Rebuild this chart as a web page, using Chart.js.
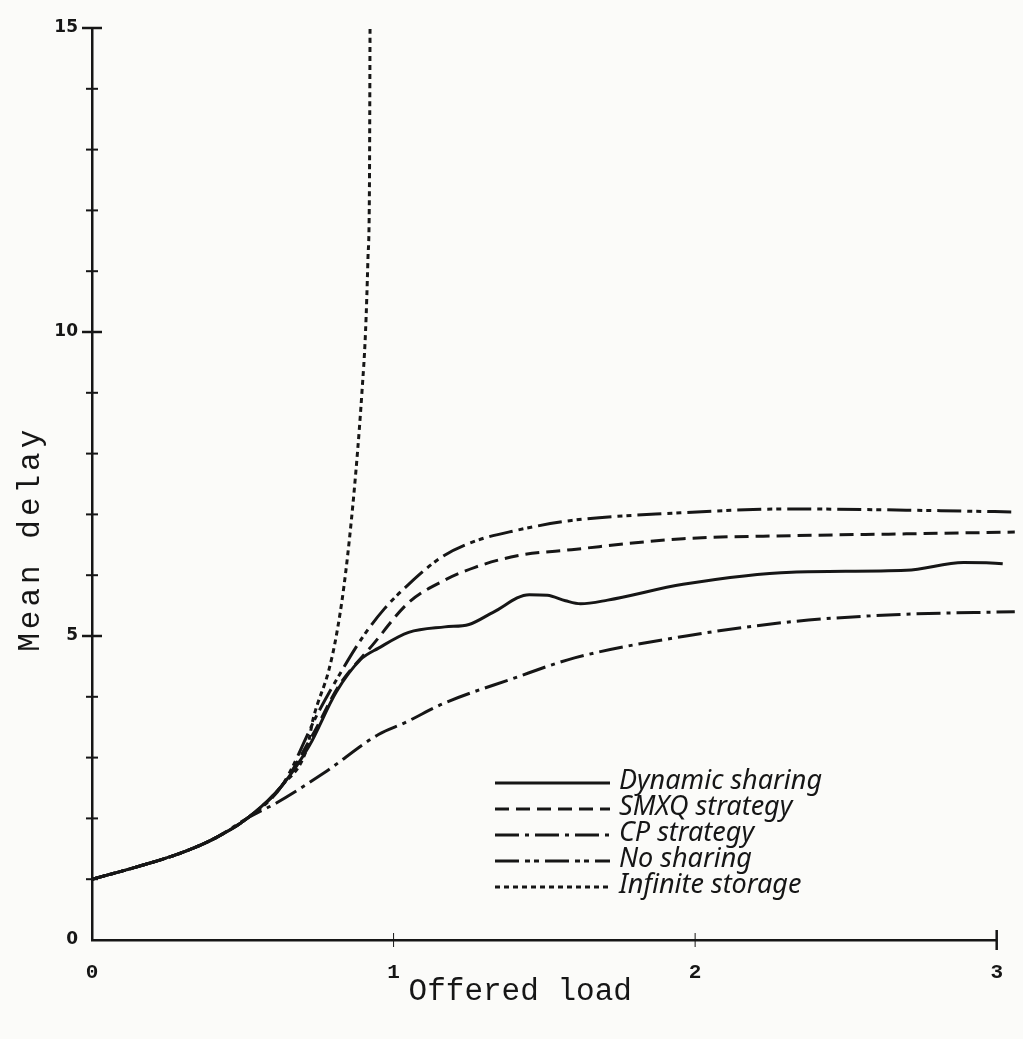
<!DOCTYPE html>
<html lang="en">
<head>
    <meta charset="UTF-8">
    <title>Mean delay vs offered load</title>
    <script src="https://cdn.jsdelivr.net/npm/chart.js"></script>
    <style>
        html, body { margin: 0; padding: 0; background: #fbfbf9; }
        #caixa { width: 1023px; height: 1039px; position: relative; }
    </style>
</head>
<body>
    <div id="caixa"><canvas id="grafico"></canvas></div>

<script>
    // tick labels
    const xLabels = [0, 1, 2, 3];
    const yLabels = [0, 5, 10, 15];

    const nomes = ['Dynamic sharing', 'SMXQ strategy', 'CP strategy', 'No sharing', 'Infinite storage'];

    // values (offered load -> mean delay)
    const dynX = [0, 0.14, 0.30, 0.41, 0.52, 0.63, 0.72, 0.81, 0.89, 0.95, 1.05, 1.17, 1.25, 1.33, 1.45, 1.51, 1.57, 1.62, 1.71, 1.96, 2.32, 2.70, 2.89, 3.02, 3.06];
    const dynY = [1.0, 1.19, 1.44, 1.68, 2.02, 2.54, 3.19, 4.08, 4.61, 4.80, 5.06, 5.15, 5.19, 5.39, 5.68, 5.67, 5.58, 5.53, 5.59, 5.85, 6.05, 6.08, 6.21, 6.19, 6.16];

    const smxqX = [0, 0.14, 0.30, 0.41, 0.52, 0.63, 0.73, 0.82, 0.93, 1.05, 1.17, 1.27, 1.41, 1.59, 1.96, 2.32, 2.70, 3.06];
    const smxqY = [1.0, 1.19, 1.44, 1.68, 2.02, 2.54, 3.36, 4.19, 4.85, 5.55, 5.92, 6.13, 6.32, 6.42, 6.60, 6.65, 6.68, 6.71];

    const cpX = [0, 0.14, 0.30, 0.41, 0.52, 0.61, 0.77, 0.95, 1.04, 1.17, 1.39, 1.60, 1.97, 2.33, 2.66, 3.06];
    const cpY = [1.0, 1.19, 1.44, 1.68, 2.02, 2.25, 2.75, 3.38, 3.58, 3.90, 4.29, 4.64, 5.00, 5.24, 5.35, 5.40];

    const noX = [0, 0.14, 0.30, 0.41, 0.52, 0.63, 0.75, 0.82, 0.90, 0.97, 1.05, 1.16, 1.27, 1.40, 1.59, 1.93, 2.32, 2.70, 3.06];
    const noY = [1.0, 1.19, 1.44, 1.68, 2.02, 2.54, 3.74, 4.36, 5.00, 5.45, 5.85, 6.30, 6.56, 6.73, 6.90, 7.02, 7.09, 7.07, 7.04];

    const infX = [0, 0.14, 0.30, 0.41, 0.52, 0.63, 0.715, 0.733, 0.786, 0.81, 0.835, 0.86, 0.88, 0.895, 0.907, 0.915, 0.92, 0.922];
    const infY = [1.0, 1.19, 1.44, 1.68, 2.02, 2.54, 3.19, 3.63, 4.45, 5.0, 5.8, 6.9, 8.0, 9.0, 10.0, 11.2, 12.4, 15.0];

    const tinta = '#161616';

    function pontos(xs, ys) {
        return xs.map((x, i) => ({ x: x, y: ys[i] }));
    }

    function serie(nome, xs, ys, dash) {
        return {
            label: nome,
            data: pontos(xs, ys),
            borderColor: tinta,
            borderWidth: 3,
            borderDash: dash,
            pointRadius: 0,
            fill: false,
            cubicInterpolationMode: 'monotone',
            clip: { left: 0, top: 4, right: 25, bottom: 0 }
        };
    }

    // cross ticks on both axes, the legend and the typewriter axis titles
    const extras = {
        id: 'extras',
        afterDraw(chart) {
            const ctx = chart.ctx;
            const xs = chart.scales.x;
            const ys = chart.scales.y;
            const area = chart.chartArea;
            ctx.save();
            ctx.strokeStyle = tinta;
            ctx.setLineDash([]);

            ys.ticks.forEach(t => {
                if (t.value === 0) return;
                const py = ys.getPixelForValue(t.value);
                const grande = yLabels.includes(t.value);
                const meio = grande ? 10 : 6;
                ctx.lineWidth = grande ? 2.5 : 2;
                ctx.beginPath();
                ctx.moveTo(area.left - meio, py);
                ctx.lineTo(area.left + meio, py);
                ctx.stroke();
            });

            xs.ticks.forEach(t => {
                if (t.value === 0) return;
                const px = xs.getPixelForValue(t.value);
                const fim = t.value === 3;
                const meio = fim ? 10 : 7;
                ctx.lineWidth = fim ? 2.5 : 1;
                ctx.beginPath();
                ctx.moveTo(px, area.bottom - meio);
                ctx.lineTo(px, area.bottom + meio);
                ctx.stroke();
            });

            // legend
            const lx = 495, lw = 115, ly = 783, passo = 26;
            chart.data.datasets.forEach((d, i) => {
                const y = ly + i * passo;
                ctx.lineWidth = 3;
                ctx.setLineDash(d.borderDash || []);
                ctx.beginPath();
                ctx.moveTo(lx, y);
                ctx.lineTo(lx + lw, y);
                ctx.stroke();
                ctx.setLineDash([]);
                ctx.fillStyle = tinta;
                ctx.font = 'italic 27px "Noto Sans"';
                ctx.textAlign = 'left';
                ctx.textBaseline = 'middle';
                ctx.fillText(d.label, lx + lw + 9, y - 2);
            });

            // axis titles
            ctx.fillStyle = tinta;
            ctx.font = '31px "Liberation Mono"';
            ctx.textAlign = 'center';
            ctx.textBaseline = 'middle';
            ctx.fillText('Offered load', xs.getPixelForValue(1.42), area.bottom + 52);

            ctx.translate(31, ys.getPixelForValue(6.6));
            ctx.rotate(-Math.PI / 2);
            ctx.letterSpacing = '4px';
            ctx.fillText('Mean delay', 0, 0);
            ctx.restore();
        }
    };

    new Chart(document.getElementById('grafico'), {
        type: 'line',
        data: {
            datasets: [
                serie(nomes[0], dynX, dynY, []),
                serie(nomes[1], smxqX, smxqY, [14, 7]),
                serie(nomes[2], cpX, cpY, [24, 6, 4, 6]),
                serie(nomes[3], noX, noY, [24, 6, 5, 4, 5, 6]),
                serie(nomes[4], infX, infY, [5, 4])
            ]
        },
        options: {
            responsive: true,
            maintainAspectRatio: false,
            animation: false,
            layout: { padding: { left: 0, right: 23, top: 28, bottom: 0 } },
            plugins: {
                legend: { display: false },
                tooltip: { enabled: false }
            },
            scales: {
                x: {
                    type: 'linear',
                    min: 0,
                    max: 3,
                    afterFit: s => { s.height = 99; },
                    afterBuildTicks: s => { s.ticks = xLabels.map(v => ({ value: v })); },
                    grid: { display: false, drawTicks: false },
                    border: { color: tinta, width: 2.5 },
                    ticks: {
                        color: tinta,
                        padding: 20,
                        font: { family: 'Liberation Mono', size: 21, weight: 'bold' }
                    }
                },
                y: {
                    min: 0,
                    max: 15,
                    afterFit: s => { s.width = 92; },
                    grid: { display: false, drawTicks: false },
                    border: { color: tinta, width: 2.5 },
                    ticks: {
                        stepSize: 1,
                        color: tinta,
                        padding: 14,
                        font: { family: 'DejaVu Sans', size: 17, weight: 'bold' },
                        callback: v => yLabels.includes(v) ? v : ''
                    }
                }
            }
        },
        plugins: [extras]
    });
</script>
</body>
</html>
